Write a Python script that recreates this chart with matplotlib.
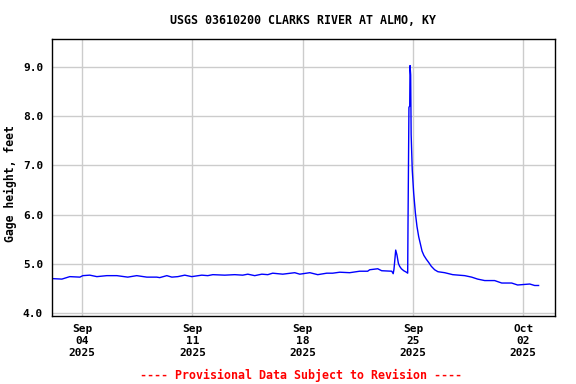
import matplotlib
matplotlib.use("Agg")
import matplotlib.pyplot as plt
import pandas as pd

# time as days since 2025-09-01 00:00, gage height in feet
days = [1.07, 1.71, 2.21, 2.85, 3.04, 3.48, 3.93, 4.56, 5.20, 5.89,
        6.46, 7.10, 7.73, 7.92, 8.37, 8.69, 9.07, 9.51, 9.95, 10.59,
        10.97, 11.29, 12.05, 12.68, 13.19, 13.51, 13.95, 14.40, 14.78, 15.09,
        15.73, 16.49, 16.81, 17.45, 17.95, 18.52, 18.90, 19.35, 19.98, 20.61,
        21.12, 21.25, 21.76, 22.01, 22.65, 22.74, 22.79, 22.90, 22.98, 23.07,
        23.15, 23.26, 23.41, 23.58, 23.66, 23.68, 23.74, 23.79, 23.81, 23.85,
        23.88, 23.95, 24.04, 24.15, 24.25, 24.36, 24.47, 24.57, 24.69, 24.85,
        24.99, 25.16, 25.37, 25.58, 26.01, 26.52, 27.28, 27.72, 28.10, 28.55,
        29.18, 29.63, 30.26, 30.64, 31.41, 31.72, 31.97]
gage = [4.70, 4.69, 4.74, 4.73, 4.76, 4.77, 4.74, 4.76, 4.76, 4.73,
        4.76, 4.73, 4.73, 4.72, 4.76, 4.73, 4.74, 4.77, 4.74, 4.77,
        4.76, 4.78, 4.77, 4.78, 4.77, 4.79, 4.76, 4.79, 4.78, 4.81,
        4.79, 4.82, 4.79, 4.82, 4.78, 4.81, 4.81, 4.83, 4.82, 4.85,
        4.85, 4.88, 4.90, 4.86, 4.85, 4.80, 4.89, 5.28, 5.18, 5.01,
        4.95, 4.90, 4.86, 4.83, 4.81, 5.78, 8.18, 8.21, 9.03, 8.84,
        7.63, 6.91, 6.44, 6.03, 5.76, 5.55, 5.40, 5.26, 5.17, 5.09,
        5.03, 4.95, 4.88, 4.84, 4.82, 4.78, 4.76, 4.73, 4.69, 4.66,
        4.66, 4.61, 4.61, 4.57, 4.59, 4.56, 4.56]

tick_dates = ["2025-09-04", "2025-09-11", "2025-09-18", "2025-09-25", "2025-10-02"]
yticks = [4.0, 5.0, 6.0, 7.0, 8.0, 9.0]

start = pd.Timestamp("2025-09-01")
times = [start + pd.Timedelta(days=d) for d in days]

font = "DejaVu Sans Mono"

fig = plt.figure(figsize=(5.76, 3.84), dpi=100)
ax = fig.add_axes([51.5 / 576, 1 - 315.5 / 384, 503 / 576, 276.5 / 384])

ax.plot(times, gage, color="#0000FF", linewidth=1.0)

ax.set_xlim(start + pd.Timedelta(days=1.05), start + pd.Timedelta(days=32.98))
ax.set_ylim(3.95, 9.57)

ticks = [pd.Timestamp(t) for t in tick_dates]
ax.set_xticks(ticks)
ax.set_xticklabels([t.strftime("%b\n%d\n%Y") for t in ticks],
                   fontfamily=font, fontweight="bold", fontsize=8, linespacing=1.25)
ax.set_yticks(yticks)
ax.set_yticklabels([f"{v:.1f}" for v in yticks],
                   fontfamily=font, fontweight="bold", fontsize=8)
ax.tick_params(length=0, pad=6)

ax.grid(True, color="#CCCCCC", linewidth=1.0)
ax.set_axisbelow(True)
for s in ax.spines.values():
    s.set_linewidth(1.0)
    s.set_color("black")

ax.set_ylabel("Gage height, feet", fontfamily=font, fontweight="bold", fontsize=8.3)
ax.yaxis.set_label_coords(-0.068, 0.477)
ax.set_title("USGS 03610200 CLARKS RIVER AT ALMO, KY", fontfamily=font,
             fontweight="bold", fontsize=8.4, pad=11)

fig.text(0.523, 1 - 375 / 384, "---- Provisional Data Subject to Revision ----",
         color="#FF0000", fontfamily=font, fontweight="bold", fontsize=8.4,
         ha="center", va="center")

fig.savefig("out.png", dpi=100)
